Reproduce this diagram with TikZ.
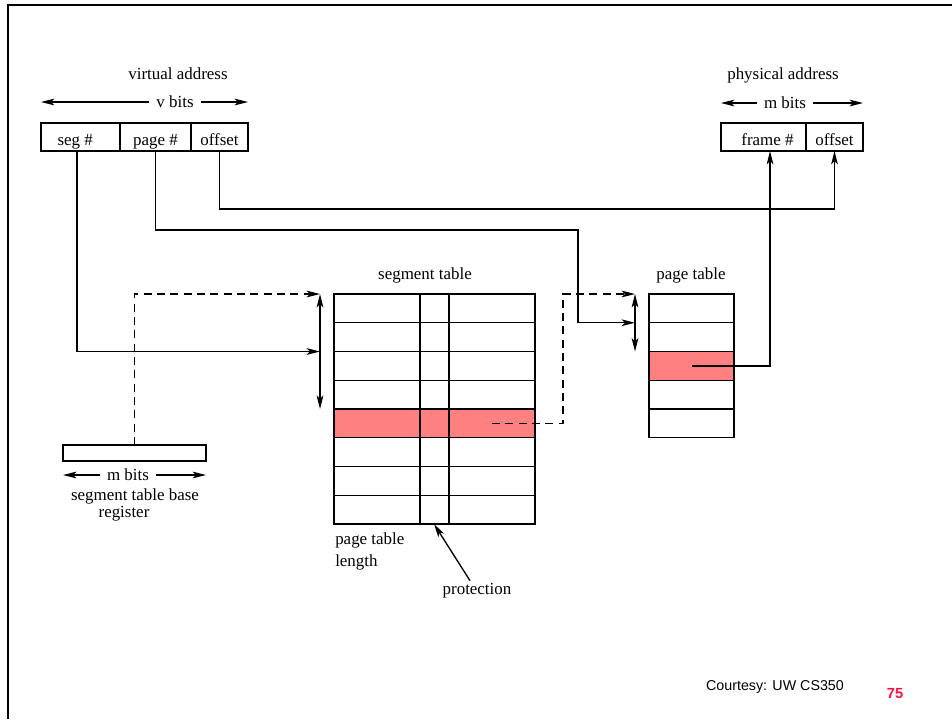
\documentclass[tikz,border=0pt]{standalone}
\usepackage{fontspec}
\setmainfont{Liberation Serif}
\newfontfamily\notefont{Liberation Sans}
\usetikzlibrary{arrows.meta}
\definecolor{hl}{RGB}{255,128,128}
\definecolor{slidenum}{RGB}{255,16,64}
\begin{document}
\begin{tikzpicture}[x=0.75pt,y=-0.75pt,
  every node/.style={font=\fontsize{12.7}{14}\selectfont, inner sep=0pt},
  cell/.style={draw, line width=1.1pt, anchor=north west, outer sep=0pt, inner sep=0pt,
               minimum height=21pt, text height=12pt, text depth=0pt},
  row/.style={cell, minimum height=21.5625pt},
  conn/.style={line width=1pt},
  tip/.style={-{Stealth[length=10pt,width=5pt,inset=2.5pt]}},
  tips/.style={{Stealth[length=10pt,width=5pt,inset=2.5pt]}-{Stealth[length=10pt,width=5pt,inset=2.5pt]}},
  ptr/.style={conn, dashed, dash pattern=on 6pt off 4pt}]
\useasboundingbox (0,0) rectangle (952,719);
% slide frame
\draw[line width=2pt] (8,719) -- (8,5) -- (952,5);

% ---- virtual address ----
\node (vtitle) at (178,74) {virtual address};
\node (vbits) at (175,102) {v bits};
\node[cell, minimum width=59.25pt] (seg) at (41,123) {\hspace*{-8pt}seg \#};
\node[cell, minimum width=53.25pt] (page) at (120,123) {page \#};
\node[cell, minimum width=42.75pt] (voff) at (191,123) {offset};
\draw[conn,tip] (vbits.west) ++(-5pt,0) -- (seg.north west |- vbits.west);
\draw[conn,tip] (vbits.east) ++(5pt,0) -- (voff.north east |- vbits.east);

% ---- physical address ----
\node (ptitle) at (783,75) {physical address};
\node (pbits) at (785,103) {m bits};
\node[cell, minimum width=63.75pt] (frame) at (721,123) {\hspace*{6pt}frame \#};
\node[cell, minimum width=42.75pt] (poff) at (806,123) {offset};
\draw[conn,tip] (pbits.west) ++(-5pt,0) -- (frame.north west |- pbits.west);
\draw[conn,tip] (pbits.east) ++(5pt,0) -- (poff.north east |- pbits.east);

% ---- segment table ----
\node (sttitle) at (425,275) {segment table};
\foreach \i in {0,...,7}
  \node[row, minimum width=150.75pt] (st\i) at (334,{294+28.75*\i}) {};
\fill[hl] (st4.north west) rectangle (st4.south east);
\draw[line width=1.1pt] (st4.north west) rectangle (st4.south east);
\draw[line width=1.1pt] ([xshift=64.5pt]st0.north west) -- ([xshift=64.5pt]st7.south west);
\draw[line width=1.1pt] ([xshift=86.25pt]st0.north west) -- ([xshift=86.25pt]st7.south west);
\node[anchor=west] (ptl1) at (335,540) {page table};
\node[anchor=west] (ptl2) at (335,562) {length};
\node (prot) at (477,591) {protection};
\coordinate (protTip) at ([xshift=75pt]st7.south west);
\draw[conn,tip] ([xshift=-5.25pt,yshift=2pt]prot.north) -- (protTip);

% ---- page table ----
\node (pttitle) at (691,275) {page table};
\foreach \i in {0,...,4}
  \node[row, minimum width=63.75pt] (pt\i) at (649,{294+28.75*\i}) {};
\fill[hl] (pt2.north west) rectangle (pt2.south east);
\draw[line width=1.1pt] (pt2.north west) rectangle (pt2.south east);

% ---- segment table base register ----
\node[cell, minimum width=107.25pt, minimum height=10.5pt] (stbr) at (63,445) {};
\node (sbits) at (128,475) {m bits};
\draw[conn,tip] (sbits.west) ++(-5pt,0) -- (stbr.south west |- sbits.west);
\draw[conn,tip] (sbits.east) ++(5pt,0) -- (stbr.south east |- sbits.east);
\node (stbrl1) at (135,496) {segment table base};
\node (stbrl2) at (124,514) {register};

% ---- index ranges into the tables ----
\coordinate (stTop) at ([xshift=-10.5pt]st0.north west);
\coordinate (stIn)  at ([xshift=-10.5pt]st2.north west);
\coordinate (stBot) at ([xshift=-10.5pt]st3.south west);
\draw[conn,tips] (stTop) -- (stBot);
\coordinate (ptTop) at ([xshift=-10.5pt]pt0.north west);
\coordinate (ptIn)  at ([xshift=-10.5pt]pt1.north west);
\coordinate (ptBot) at ([xshift=-10.5pt]pt1.south west);
\draw[conn,tips] (ptTop) -- (ptBot);

% ---- address flow ----
\coordinate (segTap) at ([xshift=-2.6pt]seg.south);
\coordinate (frameTap) at ([xshift=4.9pt]frame.south);
\coordinate (pageBend) at (578,230);
\coordinate (offBend) at ([yshift=-43.5pt]poff.south);
\coordinate (stOut) at ([xshift=43.1pt]st4.center);
\coordinate (ptrBend) at (563,294);

\draw[conn,tip] (segTap) |- (stIn);
\draw[conn,tip] (page.south) |- (pageBend) |- (ptIn);
\draw[conn,tip] (voff.south) |- (offBend) -- (poff.south);
\draw[conn,tip] (pt2.center) -| (frameTap);
\draw[ptr,tip] (stbr.north) |- (stTop);
\draw[ptr,tip] (stOut) -| (ptrBend) -- (ptTop);

% ---- footer ----
\node[font=\notefont\fontsize{10.7}{13}\selectfont] (credit) at (775,687) {Courtesy: UW CS350};
\node[font=\notefont\bfseries\fontsize{11}{13}\selectfont, text=slidenum] (num) at (895,694) {75};
\end{tikzpicture}
\end{document}
